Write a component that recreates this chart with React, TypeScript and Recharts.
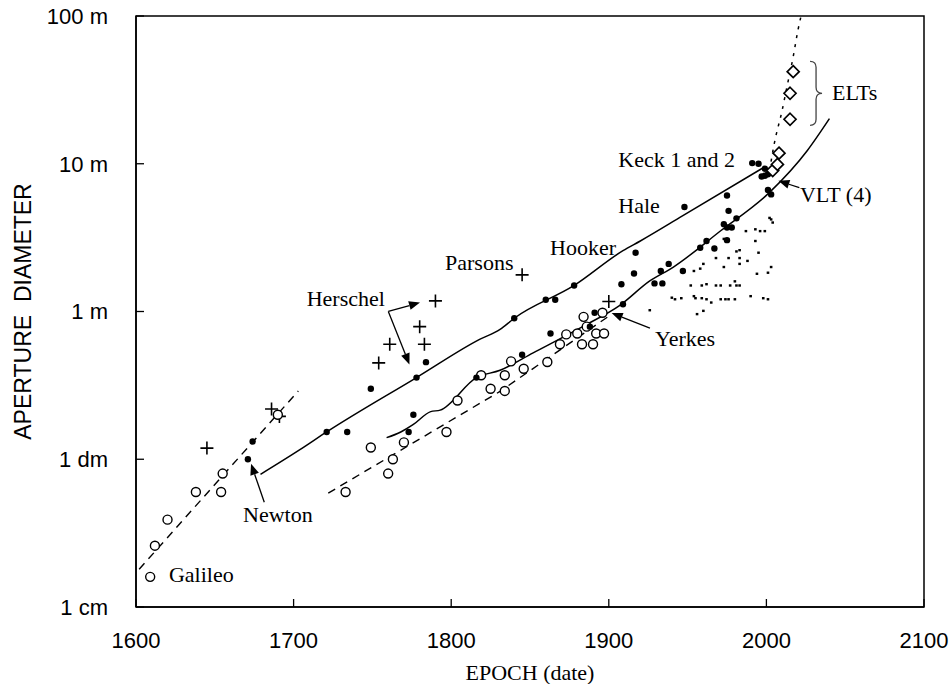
import React from 'react';
import {
  ComposedChart,
  XAxis,
  YAxis,
  Scatter,
  Line,
  ReferenceArea,
  ReferenceDot,
  ReferenceLine,
} from 'recharts';

// [year, aperture in metres]
const refractors = [
  [1609, 0.016], [1612, 0.026], [1620, 0.039], [1638, 0.06], [1654, 0.06], [1655, 0.08],
  [1690, 0.2], [1733, 0.06], [1749, 0.12], [1760, 0.08], [1763, 0.1], [1770, 0.13],
  [1797, 0.153], [1804, 0.25], [1819, 0.37], [1825, 0.3], [1834, 0.37], [1834, 0.29],
  [1838, 0.46], [1846, 0.41], [1861, 0.455], [1869, 0.6], [1873, 0.7], [1880, 0.71],
  [1883, 0.6], [1890, 0.6], [1892, 0.71], [1897, 0.71], [1884, 0.92], [1886, 0.79], [1896, 0.98],
];

const reflectors = [
  [1671, 0.1], [1674, 0.132], [1721, 0.153], [1734, 0.153], [1749, 0.3], [1773, 0.153],
  [1776, 0.2], [1778, 0.357], [1784, 0.454], [1816, 0.357], [1840, 0.9], [1845, 0.51],
  [1860, 1.2], [1863, 0.71], [1866, 1.2], [1878, 1.5], [1888, 0.79], [1891, 0.98],
  [1908, 1.53], [1909, 1.12], [1916, 1.81], [1917, 2.5], [1929, 1.55], [1933, 1.88],
  [1934, 1.55], [1938, 2.1], [1947, 1.88], [1948, 5.1], [1958, 2.7], [1962, 3.0],
  [1967, 2.67], [1973, 3.9], [1975, 3.7], [1975, 3.04], [1975, 6.1], [1976, 4.8],
  [1978, 3.7], [1981, 4.27], [1991, 10.1], [1995, 10], [1997, 8.2], [1999, 9.25],
  [1999, 8.3], [2001, 8.5], [2001, 6.65], [2003, 6.2],
];

const speculum = [
  [1645, 0.119], [1686, 0.219], [1691, 0.195], [1754, 0.449], [1761, 0.6], [1780, 0.79],
  [1783, 0.6], [1790, 1.18], [1845, 1.77], [1900, 1.17],
];

const elts = [[2004, 9.0], [2007, 9.9], [2008, 11.8], [2015, 20], [2015, 30], [2017, 42]];

const smallModern = [
  [1987, 3.5], [1993, 3.6], [1996, 3.5], [1999, 3.5], [2003, 4.2], [2004, 4.0], [2002, 4.3],
  [1993, 3.0], [1973, 3.1], [1983, 2.6], [1981, 2.55], [1976, 2.3], [1968, 2.3], [1983, 2.3],
  [1988, 2.2], [1995, 2.5], [1983, 2.1], [1973, 2.0], [1994, 1.8], [2001, 1.83], [2003, 2.0],
  [1960, 2.1], [1958, 1.95], [1954, 1.88], [1952, 1.5], [1959, 1.5], [1962, 1.53], [1968, 1.5],
  [1971, 1.5], [1977, 1.5], [1980, 1.6], [1981, 1.5], [1983, 1.5], [1940, 1.24], [1942, 1.21],
  [1946, 1.23], [1954, 1.27], [1955, 1.23], [1959, 1.23], [1962, 1.21], [1965, 1.15],
  [1971, 1.21], [1974, 1.21], [1976, 1.21], [1980, 1.21], [1990, 1.27], [1998, 1.23],
  [2001, 1.21], [1956, 0.96], [1960, 1.01], [1926, 1.02],
];

const earlyTrend = [[1602, 0.018], [1703, 0.29]];
const reflectorTrend = [
  [1679, 0.079], [1704, 0.116], [1721, 0.153], [1778, 0.357], [1818, 0.647], [1831, 0.757],
  [1840, 0.9], [1878, 1.5], [1909, 2.58], [1920, 3.0], [1947, 4.45], [1998, 9.4],
];
const modernTrend = [
  [1759, 0.14], [1768, 0.153], [1776, 0.172], [1787, 0.21], [1793, 0.215], [1816, 0.357],
  [1831, 0.4], [1852, 0.525], [1884, 0.797], [1907, 1.1], [1926, 1.61], [1941, 2.0],
  [1971, 3.52], [2002, 6.4], [2026, 12.3], [2040, 20.2],
];
const refractorTrend = [[1722, 0.059], [1831, 0.288], [1900, 0.93]];
const eltTrend = [[2002, 9.0], [2005, 13.7], [2010, 23], [2013, 33], [2017, 53], [2020, 80], [2022, 100]];

const yearTicks = [1600, 1700, 1800, 1900, 2000, 2100];
const sizeTicks = [0.01, 0.1, 1, 10, 100];
const sizeLabels = ['1 cm', '1 dm', '1 m', '10 m', '100 m'];

const notes = [
  { x: 1620.9, y: 0.01476, text: 'Galileo' },
  { x: 1667.9, y: 0.0379, text: 'Newton' },
  { x: 1708.3, y: 1.083, text: 'Herschel' },
  { x: 1796.1, y: 1.897, text: 'Parsons' },
  { x: 1862.7, y: 2.4, text: 'Hooker' },
  { x: 1906.0, y: 4.65, text: 'Hale' },
  { x: 1906.0, y: 9.53, text: 'Keck 1 and 2' },
  { x: 2021.3, y: 5.48, text: 'VLT (4)' },
  { x: 1929.3, y: 0.58, text: 'Yerkes' },
  { x: 2041.6, y: 26.9, text: 'ELTs' },
];

const arrows = [
  [[1681.4, 0.0512], [1673.0, 0.0932]],
  [[1760.1, 1.0016], [1780.2, 1.149]],
  [[1760.1, 1.0016], [1773.5, 0.4385]],
  [[1926.1, 0.772], [1901.8, 0.975]],
  [[2020.9, 6.89], [2007.6, 7.66]],
];

const toPts = (arr: number[][]) => arr.map(([x, y]) => ({ x, y }));

const SERIF = 'Liberation Serif, Times New Roman, serif';
const SANS = 'Liberation Sans, Arial, sans-serif';

const OpenCircle = (p: any) => (
  <circle cx={p.cx} cy={p.cy} r={4.5} fill="#fff" stroke="#000" strokeWidth={1.4} />
);
const FilledDot = (p: any) => <circle cx={p.cx} cy={p.cy} r={3.2} fill="#000" />;
const PlusMark = (p: any) => (
  <path
    d={`M${p.cx - 6.5},${p.cy}H${p.cx + 6.5}M${p.cx},${p.cy - 6.5}V${p.cy + 6.5}`}
    stroke="#000"
    strokeWidth={1.6}
  />
);
const DiamondMark = (p: any) => (
  <polygon
    points={`${p.cx},${p.cy - 6} ${p.cx + 6},${p.cy} ${p.cx},${p.cy + 6} ${p.cx - 6},${p.cy}`}
    fill="#fff"
    stroke="#000"
    strokeWidth={1.7}
  />
);
const TinyDot = (p: any) => <rect x={p.cx - 1.3} y={p.cy - 1.2} width={2.6} height={2.4} fill="#000" />;

const arrowShape = (p: any) => {
  const { x1, y1, x2, y2 } = p;
  const dx = x2 - x1;
  const dy = y2 - y1;
  const len = Math.hypot(dx, dy) || 1;
  const ux = dx / len;
  const uy = dy / len;
  const bx = x2 - ux * 11;
  const by = y2 - uy * 11;
  return (
    <g>
      <line x1={x1} y1={y1} x2={bx} y2={by} stroke="#000" strokeWidth={1.3} />
      <polygon
        points={`${x2},${y2} ${bx - uy * 4.5},${by + ux * 4.5} ${bx + uy * 4.5},${by - ux * 4.5}`}
        fill="#000"
      />
    </g>
  );
};

const braceShape = (p: any) => {
  const { cx, cy } = p;
  const d = `M${cx},${cy - 32} Q${cx + 6},${cy - 32} ${cx + 6},${cy - 26} L${cx + 6},${cy - 6} Q${cx + 6},${cy} ${cx + 12},${cy} Q${cx + 6},${cy} ${cx + 6},${cy + 6} L${cx + 6},${cy + 26} Q${cx + 6},${cy + 32} ${cx},${cy + 32}`;
  return <path d={d} fill="none" stroke="#444" strokeWidth={1.3} />;
};

export default function App() {
  return (
    <div style={{ position: 'absolute', left: 0, top: 0, background: '#fff' }}>
      <ComposedChart width={949} height={684} margin={{ top: 16, right: 25, bottom: 0, left: 0 }}>
        <XAxis
          type="number"
          dataKey="x"
          domain={[1600, 2100]}
          ticks={yearTicks}
          allowDataOverflow
          height={77}
          tickSize={-8}
          tickMargin={33}
          axisLine={{ stroke: '#000', strokeWidth: 1.5 }}
          tickLine={{ stroke: '#000', strokeWidth: 1.3 }}
          tick={{ fill: '#000', fontSize: 22, fontFamily: SANS }}
          label={{
            value: 'EPOCH (date)',
            position: 'insideBottom',
            offset: 4,
            fill: '#000',
            fontSize: 22,
            fontFamily: SERIF,
          }}
        />
        <YAxis
          type="number"
          scale="log"
          domain={[0.01, 100]}
          ticks={sizeTicks}
          allowDataOverflow
          width={136}
          tickSize={-8}
          tickMargin={36}
          tickFormatter={(v: number) => sizeLabels[sizeTicks.indexOf(v)] ?? ''}
          axisLine={{ stroke: '#000', strokeWidth: 1.5 }}
          tickLine={{ stroke: '#000', strokeWidth: 1.3 }}
          tick={{ fill: '#000', fontSize: 22, fontFamily: SANS }}
          label={{
            value: 'APERTURE\u00a0 DIAMETER',
            angle: -90,
            position: 'insideLeft',
            offset: 23,
            fill: '#000',
            fontSize: 23,
            fontFamily: SANS,
            style: { textAnchor: 'middle' },
          }}
        />
        <ReferenceArea x1={1600} x2={2100} y1={0.01} y2={100} fill="none" stroke="#000" strokeWidth={1.5} />

        <Line data={toPts(earlyTrend)} dataKey="y" stroke="#000" strokeWidth={1.4} strokeDasharray="8 6" dot={false} isAnimationActive={false} />
        <Line type="monotone" data={toPts(reflectorTrend)} dataKey="y" stroke="#000" strokeWidth={1.5} dot={false} isAnimationActive={false} />
        <Line type="monotone" data={toPts(modernTrend)} dataKey="y" stroke="#000" strokeWidth={1.5} dot={false} isAnimationActive={false} />
        <Line data={toPts(refractorTrend)} dataKey="y" stroke="#000" strokeWidth={1.4} strokeDasharray="8 6" dot={false} isAnimationActive={false} />
        <Line type="monotone" data={toPts(eltTrend)} dataKey="y" stroke="#000" strokeWidth={1.5} strokeDasharray="3 6" dot={false} isAnimationActive={false} />

        <Scatter data={toPts(smallModern)} dataKey="y" shape={TinyDot} isAnimationActive={false} />
        <Scatter data={toPts(speculum)} dataKey="y" shape={PlusMark} isAnimationActive={false} />
        <Scatter data={toPts(refractors)} dataKey="y" shape={OpenCircle} isAnimationActive={false} />
        <Scatter data={toPts(reflectors)} dataKey="y" shape={FilledDot} isAnimationActive={false} />
        <Scatter data={toPts(elts)} dataKey="y" shape={DiamondMark} isAnimationActive={false} />

        {arrows.map(([a, b], i) => (
          <ReferenceLine
            key={`arrow-${i}`}
            segment={[{ x: a[0], y: a[1] }, { x: b[0], y: b[1] }]}
            stroke="#000"
            shape={arrowShape}
          />
        ))}
        <ReferenceDot x={2027.7} y={29.97} r={1} shape={braceShape} />
        {notes.map((n) => (
          <ReferenceDot
            key={n.text}
            x={n.x}
            y={n.y}
            r={1}
            shape={(p: any) => (
              <text x={p.cx} y={p.cy} fontFamily={SERIF} fontSize={22} fill="#000">
                {n.text}
              </text>
            )}
          />
        ))}
      </ComposedChart>
    </div>
  );
}
